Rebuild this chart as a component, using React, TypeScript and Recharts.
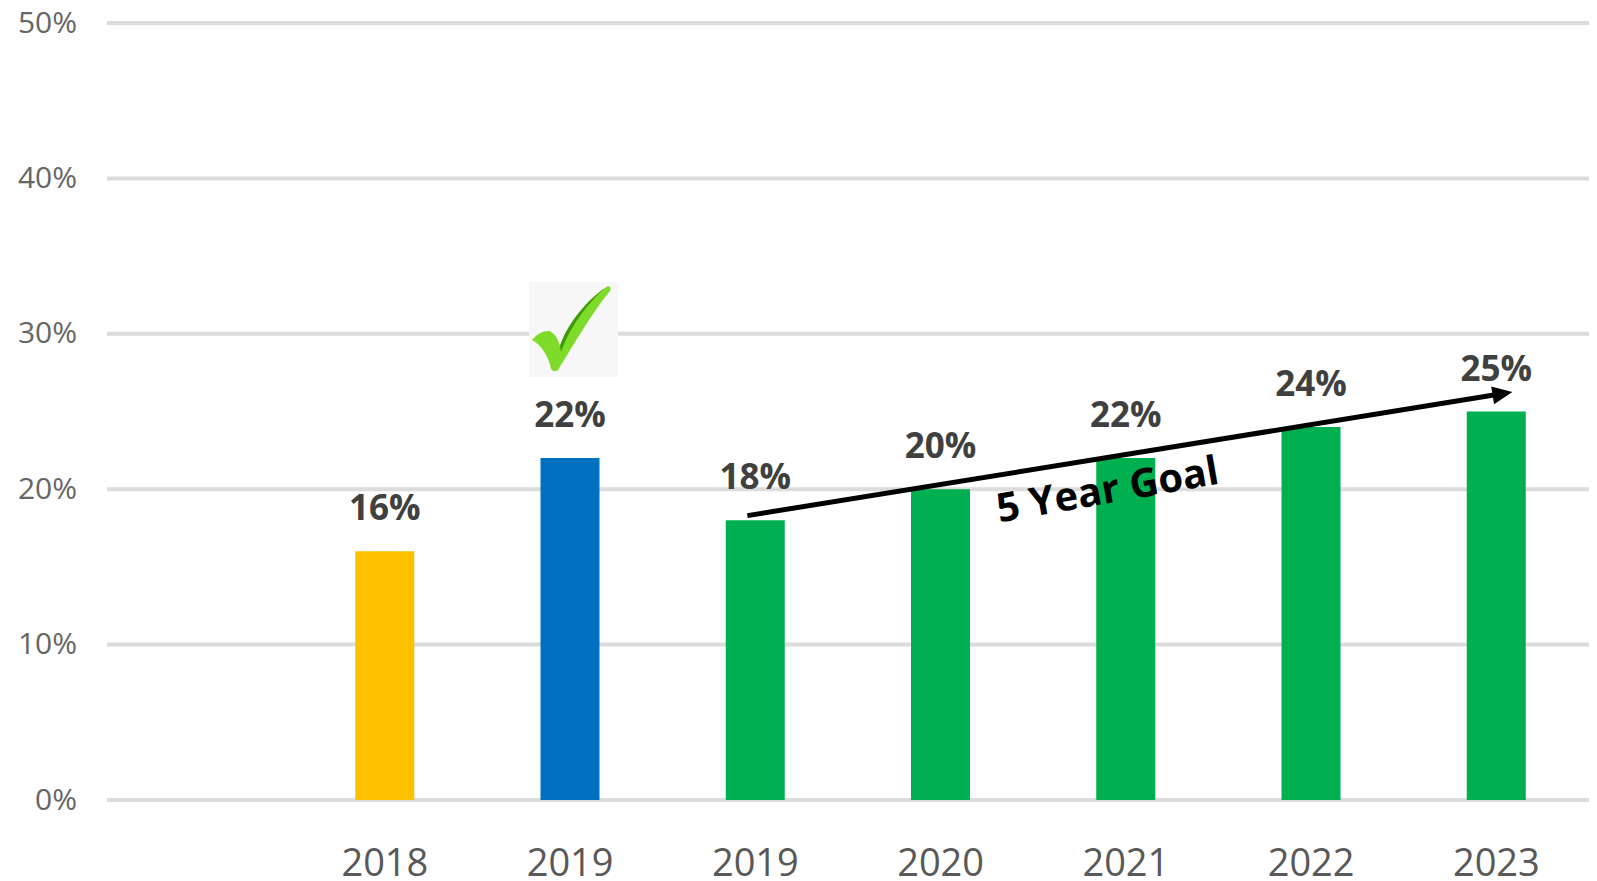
import React from "react";
import { BarChart, Bar, XAxis, YAxis, CartesianGrid, Cell, LabelList, ReferenceLine, Customized } from "recharts";

const categories = ["", "2018", "2019a", "2019b", "2020", "2021", "2022", "2023"];
const tickLabels: Record<string, string> = { "": "", "2018": "2018", "2019a": "2019", "2019b": "2019", "2020": "2020", "2021": "2021", "2022": "2022", "2023": "2023" };
const values = [null, 16, 22, 18, 20, 22, 24, 25];
const colors = ["#00B050", "#FFC000", "#0070C0", "#00B050", "#00B050", "#00B050", "#00B050", "#00B050"];
const yTicks = [0, 10, 20, 30, 40, 50];
const goalSegment = [{ x: "2019b", y: 18.3 }, { x: "2023", y: 26.25 }];
const goalLabel = "5 Year Goal";
const data = categories.map((c, i) => ({ c, v: values[i] }));
const font = "'Open Sans', 'Noto Sans', sans-serif";
const margin = { top: 23, right: 8, bottom: 0, left: 0 };

function GoalArrow(props: any) {
  const x1 = props.x1 - 8, y1 = props.y1;
  const x2 = props.x2 + 16, y2 = props.y2;
  const a = Math.atan2(y2 - y1, x2 - x1);
  const c = Math.cos(a), s = Math.sin(a);
  return (
    <g>
      <line x1={x1} y1={y1} x2={x2 - 14 * c} y2={y2 - 14 * s} stroke="#000" strokeWidth={5} />
      <polygon points={`${x2},${y2} ${x2 - 20 * c + 9 * s},${y2 - 20 * s - 9 * c} ${x2 - 20 * c - 9 * s},${y2 - 20 * s + 9 * c}`} fill="#000" />
    </g>
  );
}

function Annotations() {
  return (
    <g>
      <text x={1110} y={503} textAnchor="middle" fontFamily={font} fontWeight={700} fontSize={40} fill="#000" transform="rotate(-10 1110 503)">{goalLabel}</text>
      <rect x={529} y={282} width={89} height={95} fill="#F7F7F7" />
      <path d="M532,340 C537,334 543,331 548,331 C553,331 558,338 560,346 C566,328 582,304 608,286 Q612,287 610,291 C594,310 574,344 558,370 Q554,373 551,369 C549,358 542,345 532,340 Z" fill="#7FDB2A" />
      <path d="M560,346 C566,328 582,304 606,287 C588,303 570,326 561,352 Z" fill="#3E9A0A" />
    </g>
  );
}

const xAxisProps = { dataKey: "c", interval: 0 as const, height: 81 };
const yAxisProps = { width: 107, domain: [0, 50] as [number, number], ticks: yTicks };

export default function App() {
  return (
    <div style={{ position: "absolute", left: 0, top: 0, width: 1597, height: 881, background: "#fff", overflow: "hidden" }}>
      <div style={{ position: "absolute", left: 0, top: 0 }}>
        <BarChart width={1597} height={881} data={data} margin={margin}>
          <CartesianGrid vertical={false} stroke="#DCDCDC" strokeWidth={4} />
          <XAxis {...xAxisProps} tickFormatter={(c: string) => tickLabels[c]} axisLine={false} tickLine={false} tick={{ fontFamily: font, fontSize: 38, fill: "#595959" }} tickMargin={43} />
          <YAxis {...yAxisProps} tickFormatter={(v: number) => `${v}%`} axisLine={false} tickLine={false} tick={{ fontFamily: font, fontSize: 30, fill: "#666666", dy: -1 }} tickMargin={24} />
          <Bar dataKey="v" barSize={59} isAnimationActive={false}>
            {data.map((d, i) => <Cell key={i} fill={colors[i]} />)}
            <LabelList dataKey="v" position="top" offset={31} formatter={(v: any) => (v == null ? "" : `${v}%`)} style={{ fontFamily: font, fontSize: 35, fontWeight: 700, fill: "#404040" }} />
          </Bar>
        </BarChart>
      </div>
      <div style={{ position: "absolute", left: 0, top: 0 }}>
        <BarChart width={1597} height={881} data={data} margin={margin}>
          <XAxis {...xAxisProps} tick={false} axisLine={false} tickLine={false} />
          <YAxis {...yAxisProps} tick={false} axisLine={false} tickLine={false} />
          <Bar dataKey="v" barSize={59} fill="none" isAnimationActive={false} />
          <ReferenceLine segment={goalSegment} ifOverflow="visible" stroke="#000" strokeWidth={5} shape={GoalArrow} />
          <Customized component={Annotations} />
        </BarChart>
      </div>
    </div>
  );
}
